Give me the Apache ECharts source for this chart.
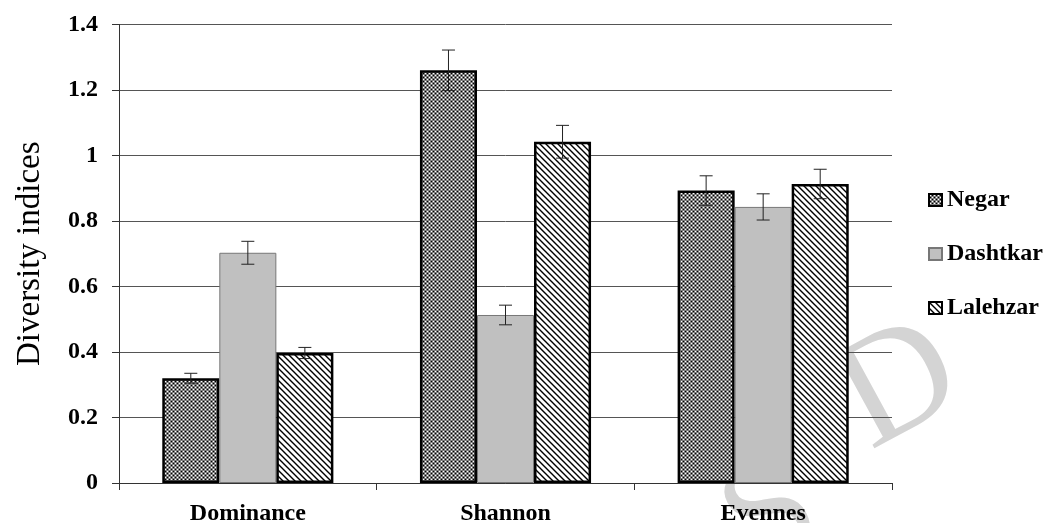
<!DOCTYPE html>
<html><head><meta charset="utf-8">
<script src="https://cdn.jsdelivr.net/npm/echarts@6/dist/echarts.min.js"></script>
<style>html,body{margin:0;padding:0;background:#fff}#c{width:1046px;height:523px}</style>
</head><body><div id="c"></div>
<script>
const categories = ['Dominance', 'Shannon', 'Evennes'];
const seriesNames = ['Negar', 'Dashtkar', 'Lalehzar'];
const negar = [0.32, 1.26, 0.893];
const dashtkar = [0.703, 0.513, 0.843];
const lalehzar = [0.397, 1.042, 0.913];
const negarErr = [0.015, 0.062, 0.045];
const dashtkarErr = [0.035, 0.03, 0.04];
const lalehzarErr = [0.017, 0.05, 0.045];
const yTicks = [0, 0.2, 0.4, 0.6, 0.8, 1, 1.2, 1.4];

function checkPattern(){
  const c = document.createElement('canvas'); c.width = 4; c.height = 4;
  const g = c.getContext('2d');
  g.fillStyle = '#7e7e7e'; g.fillRect(0,0,4,4);
  g.fillStyle = '#ffffff'; g.fillRect(1,1,1,1); g.fillRect(3,3,1,1);
  g.fillStyle = '#000000'; g.fillRect(1,3,1,1); g.fillRect(3,1,1,1);
  return c;
}
function hatchPattern(){
  const s = 6;
  const c = document.createElement('canvas'); c.width = s; c.height = s;
  const g = c.getContext('2d');
  g.fillStyle = '#fff'; g.fillRect(0,0,s,s);
  g.strokeStyle = '#000'; g.lineWidth = 1.4;
  g.beginPath();
  g.moveTo(-s,0); g.lineTo(s,2*s);
  g.moveTo(0,0); g.lineTo(s,s);
  g.moveTo(0,-s); g.lineTo(2*s,s);
  g.stroke();
  return c;
}
const fills = [
  {image: checkPattern(), repeat: 'repeat'},
  '#c0c0c0',
  {image: hatchPattern(), repeat: 'repeat'}
];
const borders = [{c:'#000', w:2.5}, {c:'#777', w:1}, {c:'#000', w:2.5}];
const values = [negar, dashtkar, lalehzar];
const errs = [negarErr, dashtkarErr, lalehzarErr];
const CAT_GAP = 0.336;

const chart = echarts.init(document.getElementById('c'));
const font = '"Liberation Serif", "Times New Roman", serif';

const series = [];
seriesNames.forEach((n, i) => {
  series.push({
    name: n, type: 'bar', data: values[i],
    barGap: '0%', barCategoryGap: (CAT_GAP*100) + '%',
    itemStyle: {color: fills[i], borderColor: borders[i].c, borderWidth: borders[i].w},
    z: 6
  });
});
seriesNames.forEach((n, i) => {
  series.push({
    type: 'custom', name: n + ' err',
    data: values[i].map((v, k) => [k, v - errs[i][k], v + errs[i][k]]),
    z: 8,
    renderItem: function(params, api){
      const k = api.value(0);
      const lo = api.coord([k, api.value(1)]);
      const hi = api.coord([k, api.value(2)]);
      const catW = api.size([1, 0])[0];
      const bw = catW * (1 - CAT_GAP) / 3;
      const x = lo[0] + (i - 1) * bw;
      const cap = 6.5;
      const st = {stroke: '#222', lineWidth: 1};
      return {type: 'group', children: [
        {type: 'line', shape: {x1: x, y1: lo[1], x2: x, y2: hi[1]}, style: st},
        {type: 'line', shape: {x1: x - cap, y1: lo[1], x2: x + cap, y2: lo[1]}, style: st},
        {type: 'line', shape: {x1: x - cap, y1: hi[1], x2: x + cap, y2: hi[1]}, style: st}
      ]};
    }
  });
});

chart.setOption({
  animation: false,
  backgroundColor: '#fff',
  grid: {left: 119, right: 154, top: 24.5, bottom: 40, containLabel: false, outerBoundsMode: 'none'},
  legend: {
    orient: 'vertical', left: 923, top: 183, itemGap: 30, z: 10,
    itemWidth: 13, itemHeight: 12, icon: 'rect',
    data: seriesNames,
    textStyle: {fontFamily: font, fontWeight: 'bold', fontSize: 24, color: '#000'}
  },
  xAxis: {
    type: 'category', data: categories, z: 4,
    axisLine: {lineStyle: {color: '#333', width: 1}},
    axisTick: {show: true, length: 7, lineStyle: {color: '#333'}},
    axisLabel: {fontFamily: font, fontWeight: 'bold', fontSize: 24, color: '#000', margin: 19}
  },
  yAxis: {
    type: 'value', min: yTicks[0], max: yTicks[yTicks.length-1], interval: 0.2, z: 4,
    name: 'Diversity indices', nameLocation: 'middle', nameGap: 72, nameRotate: 90,
    nameTextStyle: {fontFamily: font, fontSize: 33, color: '#000'},
    axisLine: {show: true, lineStyle: {color: '#333'}},
    axisTick: {show: true, length: 7, lineStyle: {color: '#333'}},
    splitLine: {lineStyle: {color: '#555', width: 1}},
    axisLabel: {fontFamily: font, fontWeight: 'bold', fontSize: 24, color: '#000', margin: 21,
      formatter: v => String(+v.toFixed(1))}
  },
  graphic: {
    elements: [
      {type: 'text', x: 772, y: 518, rotation: 0.5, z: 1, silent: true,
       style: {text: 'S', x: 0, y: 0, textAlign: 'center', textVerticalAlign: 'middle',
         font: '150px ' + font, fill: '#d4d4d4'}},
      {type: 'text', x: 900, y: 388, rotation: 0.5, z: 1, silent: true,
       style: {text: 'D', x: 0, y: 0, textAlign: 'center', textVerticalAlign: 'middle',
         font: '155px ' + font, fill: '#d4d4d4'}}
    ]
  },
  series: series
});
</script></body></html>
